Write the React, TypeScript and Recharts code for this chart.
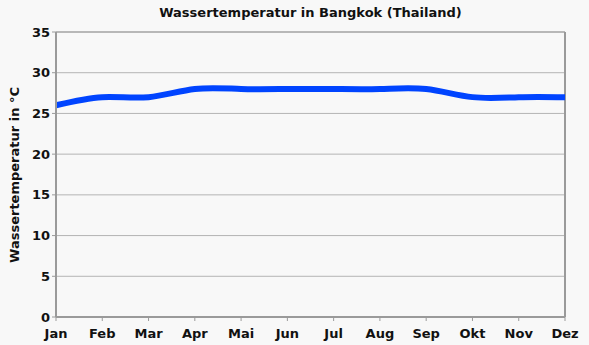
import React from "react";
import { LineChart, Line, XAxis, YAxis, CartesianGrid, ReferenceLine } from "recharts";

const months = ["Jan", "Feb", "Mar", "Apr", "Mai", "Jun", "Jul", "Aug", "Sep", "Okt", "Nov", "Dez"];
const temps = [26, 27, 27, 28, 28, 28, 28, 28, 28, 27, 27, 27];
const yTicks = [0, 5, 10, 15, 20, 25, 30, 35];

const data = months.map((m, i) => ({ month: m, temp: temps[i] }));

const font = "'DejaVu Sans', Verdana, sans-serif";

export default function App() {
  return (
    <div style={{ position: "absolute", left: 0, top: 0, width: 589, height: 345, background: "#f8f8f8", fontFamily: font }}>
      <div style={{ position: "absolute", left: 56, width: 509, top: 5, textAlign: "center", fontSize: 13, fontWeight: "bold", color: "#111" }}>
        Wassertemperatur in Bangkok (Thailand)
      </div>
      <div style={{ position: "absolute", left: 14, top: 175, transform: "translate(-50%, -50%) rotate(-90deg)", whiteSpace: "nowrap", fontSize: 13, fontWeight: "bold", color: "#111" }}>
        Wassertemperatur in °C
      </div>
      <LineChart width={589} height={345} data={data} margin={{ top: 32, right: 24, bottom: 0, left: 0 }} style={{ position: "absolute", left: 0, top: 0 }}>
        <CartesianGrid vertical={false} stroke="#b4b4b4" strokeWidth={1} />
        <XAxis
          dataKey="month"
          height={28}
          axisLine={{ stroke: "#9a9a9a", strokeWidth: 2 }}
          tickLine={{ stroke: "#9a9a9a" }}
          tickSize={4}
          tick={{ fill: "#111", fontSize: 13, fontWeight: "bold", fontFamily: font, dy: 6 }}
          interval={0}
        />
        <YAxis
          domain={[0, 35]}
          ticks={yTicks}
          width={56}
          axisLine={{ stroke: "#9a9a9a", strokeWidth: 2 }}
          tickLine={{ stroke: "#9a9a9a" }}
          tickSize={4}
          tick={{ fill: "#111", fontSize: 13, fontWeight: "bold", fontFamily: font }}
        />
        <ReferenceLine x="Dez" stroke="#9a9a9a" strokeWidth={2} />
        <ReferenceLine y={35} stroke="#9a9a9a" strokeWidth={1} />
        <Line type="natural" dataKey="temp" stroke="#0044ff" strokeWidth={6} dot={false} isAnimationActive={false} />
      </LineChart>
    </div>
  );
}
